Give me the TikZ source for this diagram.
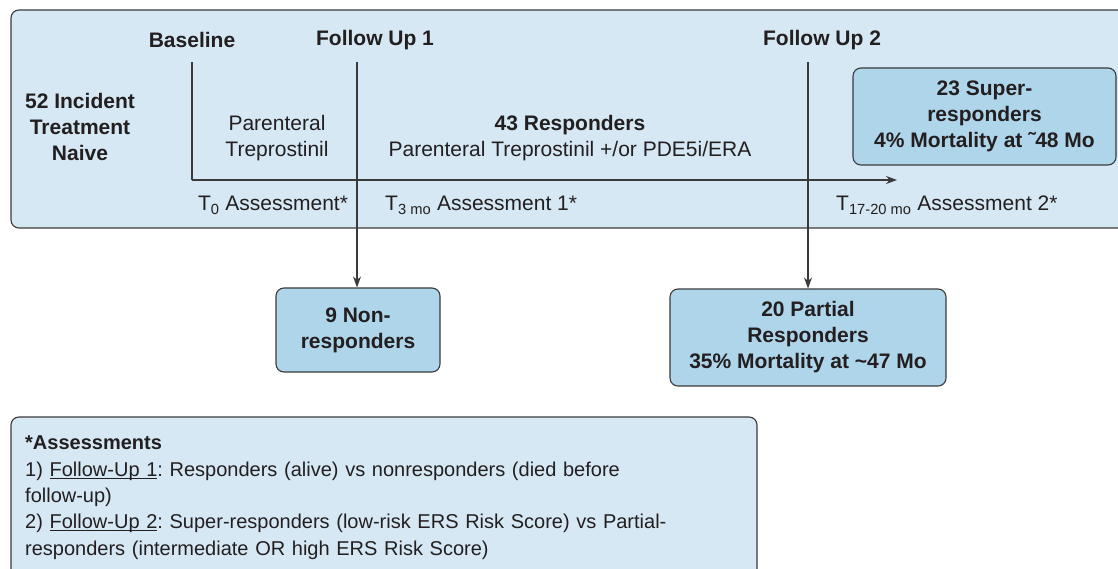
\documentclass[tikz,border=0pt]{standalone}
\usepackage{fontspec}
\setmainfont{Liberation Sans}
\usetikzlibrary{arrows.meta}
\definecolor{panelfill}{HTML}{D5E8F3}
\definecolor{boxfill}{HTML}{AED5EA}
\definecolor{edge}{HTML}{3A3A3A}
\definecolor{ink}{HTML}{231F20}
% underline drawn just under the baseline
\newcommand\undl[1]{\setbox0\hbox{#1}\rlap{\rule[-2.4pt]{\wd0}{0.9pt}}\box0}
\frenchspacing
\begin{document}
\begin{tikzpicture}[x=1pt,y=-1pt,
  every node/.style={text=ink,font=\fontsize{21}{26}\selectfont,inner sep=0pt},
  panel/.style={draw=edge,fill=panelfill,line width=1.1pt,rounded corners=8pt},
  groupbox/.style={draw=edge,fill=boxfill,line width=1.1pt,rounded corners=8pt,align=center,
    font=\fontsize{21}{26}\selectfont\bfseries},
  heading/.style={font=\fontsize{21}{26}\selectfont\bfseries,align=center},
  plain/.style={align=center},
  timeline/.style={draw=edge,line width=1.1pt},
  flow/.style={draw=edge,line width=1.1pt,-{Stealth[length=11pt,width=8pt]}}]
\useasboundingbox (0,0) rectangle (1118,569);

% background panels
\draw[panel] (11,10) rectangle (1140,228);
\draw[panel] (11,417) rectangle (757,600);

% column headings
\node[heading] (base) at (192,40) {Baseline};
\node[heading] (fu1) at (375,40) {Follow Up 1};
\node[heading] (fu2) at (822,40) {Follow Up 2};

% cohort and treatment labels
\node[heading] (cohort) at (80,127) {52 Incident\\Treatment\\Naive};
\node[plain] (tx0) at (277,138) {Parenteral\\Treprostinil};
\node[heading] (resp) at (570,125) {43 Responders};
\node[plain] (tx1) at (570,151) {Parenteral Treprostinil +/or PDE5i/ERA};

% assessment labels under the timeline
\node[anchor=base] (a0) at (273,211) {T\textsubscript{0} Assessment*};
\node[anchor=base west] (a1) at (385,211) {T\textsubscript{3 mo} Assessment 1*};
\node[anchor=base west] (a2) at (836,211) {T\textsubscript{17-20 mo} Assessment 2*};

% outcome groups
\node[groupbox,minimum width=263pt,minimum height=97pt] (super) at (984.5,116.5)
  {23 Super-\\responders\\4\% Mortality at ˜48 Mo};
\node[groupbox,minimum width=164pt,minimum height=84pt] (non) at (358,330)
  {9 Non-\\responders};
\node[groupbox,minimum width=276pt,minimum height=97pt] (partial) at (808,337.5)
  {20 Partial\\Responders\\35\% Mortality at \textasciitilde47 Mo};

% timeline and follow-up drops
\coordinate (t0top) at (192,62);
\coordinate (t0corner) at (192,180);
\coordinate (tend) at (897,180);
\coordinate (t1top) at (357,62);
\coordinate (t2top) at (808,62);
\draw[timeline] (t0top) -- (t0corner);
\draw[flow] (t0corner) -- (tend);
\draw[flow] (t1top) -- (t1top |- non.north);
\draw[flow] (t2top) -- (t2top |- partial.north);

% footnote on the assessments
\node[anchor=north west,align=left,text width=720pt,font=\fontsize{20}{26.3}\selectfont] (notes) at (25,436)
  {\textbf{*Assessments}\\
   1) \undl{Follow-Up 1}: Responders (alive) vs nonresponders (died before\\
   follow-up)\\
   2) \undl{Follow-Up 2}: Super-responders (low-risk ERS Risk Score) vs Partial-\\
   responders (intermediate OR high ERS Risk Score)};
\end{tikzpicture}
\end{document}
